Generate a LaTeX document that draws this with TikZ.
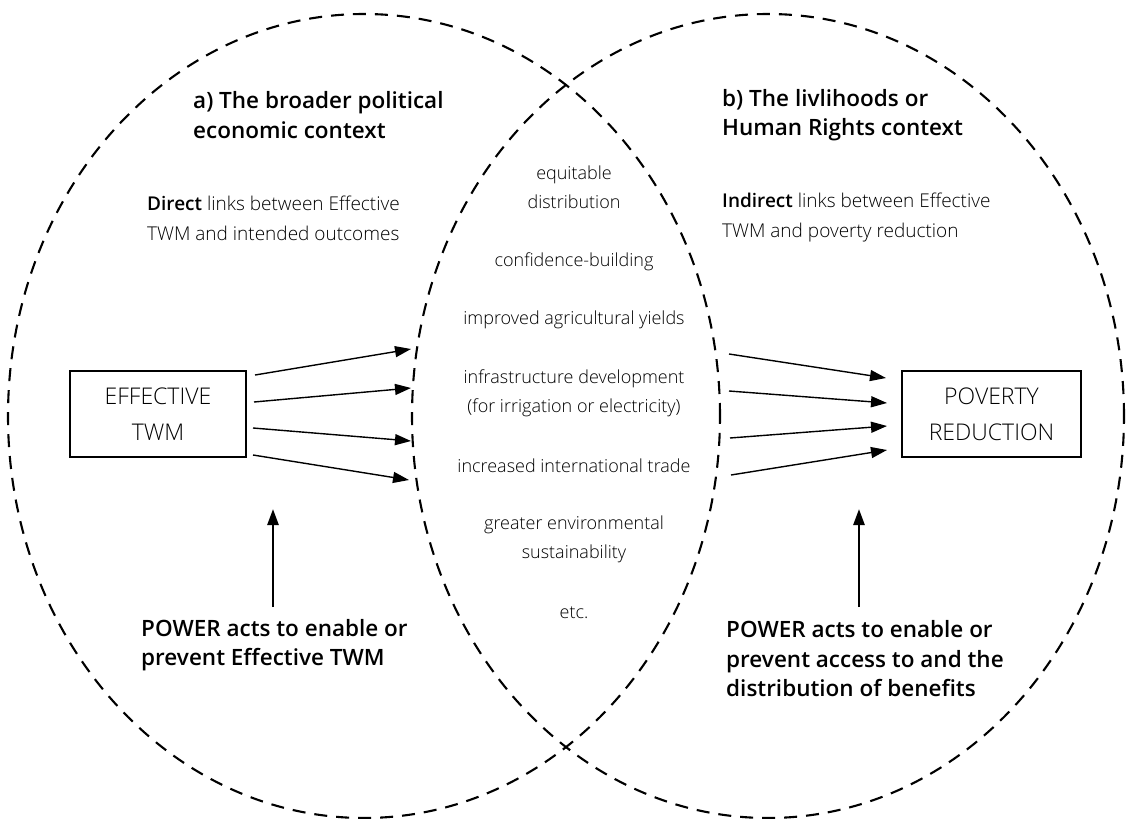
\documentclass[tikz,border=0pt]{standalone}
\usepackage{fontspec}
\setmainfont{Open Sans}[UprightFont={* Light}, BoldFont={* Semibold}]
\usetikzlibrary{arrows.meta}
\begin{document}
\begin{tikzpicture}[x=1pt, y=-1pt,
  zone/.style={draw, line width=2.1pt, dash pattern=on 13pt off 9pt},
  heading/.style={inner sep=0pt, anchor=west, align=left, font=\fontsize{22.5}{29.5}\selectfont\bfseries},
  body/.style={inner sep=0pt, anchor=west, align=left, font=\fontsize{19}{30}\selectfont},
  outcome/.style={inner sep=0pt, align=center, font=\fontsize{18}{29}\selectfont},
  mainbox/.style={draw, line width=2.5pt, minimum width=176pt, minimum height=86pt,
    inner sep=0pt, align=center, font=\fontsize{23}{36}\selectfont},
  link/.style={line width=1.4pt, -{Triangle[length=16pt, width=11pt]}},
  force/.style={line width=2.6pt, -{Triangle[length=16pt, width=11pt]}}]
\useasboundingbox (0,0) rectangle (1141,819);

% two overlapping contexts
\draw[zone] (364,416) ellipse [x radius=356pt, y radius=402pt];
\draw[zone] (768,416) ellipse [x radius=356pt, y radius=402pt];

% context headings
\node[heading] (ha) at (193,115) {a) The broader political\\economic context};
\node[heading] (hb) at (722,115) {b) The livlihoods or\\Human Rights context};

% kinds of links
\node[body] (direct) at (147,218) {\textbf{Direct} links between Effective\\TWM and intended outcomes};
\node[body] (indirect) at (722,218) {\textbf{Indirect} links between Effective\\TWM and poverty reduction};

% main boxes
\node[mainbox] (twm) at (158,414) {EFFECTIVE\\TWM};
\node[mainbox, minimum width=179pt] (pov) at (991.5,414) {POVERTY\\REDUCTION};

% intended outcomes
\node[outcome] (o1) at (574,187) {equitable\\distribution};
\node[outcome] (o2) at (574,262) {confidence-building};
\node[outcome] (o3) at (574,320) {improved agricultural yields};
\node[outcome] (o4) at (574,393) {infrastructure development\\(for irrigation or electricity)};
\node[outcome] (o5) at (574,466) {increased international trade};
\node[outcome] (o6) at (574,539) {greater environmental\\sustainability};
\node[outcome] (o7) at (574,613) {etc.};

% power statements
\node[heading] (pa) at (141,645) {POWER acts to enable or\\prevent Effective TWM};
\node[heading] (pb) at (726,659) {POWER acts to enable or\\prevent access to and the\\distribution of benefits};

% arrow end points
\coordinate (ls1) at (255,375); \coordinate (le1) at (411,349);
\coordinate (ls2) at (254,402); \coordinate (le2) at (411,388);
\coordinate (ls3) at (253,428); \coordinate (le3) at (411,441);
\coordinate (ls4) at (253,455); \coordinate (le4) at (409,480);
\coordinate (rs1) at (729,354); \coordinate (re1) at (886,378);
\coordinate (rs2) at (729,391); \coordinate (re2) at (887,403);
\coordinate (rs3) at (730,438); \coordinate (re3) at (887,426);
\coordinate (rs4) at (731,475); \coordinate (re4) at (887,450);
\coordinate (pas) at (273,607); \coordinate (pae) at (273,509);
\coordinate (pbs) at (859,607); \coordinate (pbe) at (859,509);

\foreach \i in {1,...,4}{
  \draw[link] (ls\i) -- (le\i);
  \draw[link] (rs\i) -- (re\i);
}
\draw[force] (pas) -- (pae);
\draw[force] (pbs) -- (pbe);
\end{tikzpicture}
\end{document}
